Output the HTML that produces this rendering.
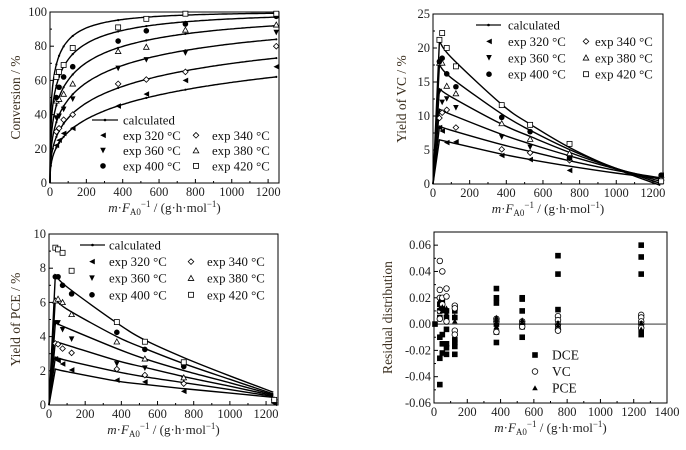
<!DOCTYPE html>
<html><head><meta charset="utf-8"><style>
html,body{margin:0;padding:0;background:#fff;}
svg{display:block;font-family:"Liberation Serif",serif;}
</style></head><body>
<svg id="s" width="686" height="450" viewBox="0 0 686 450" xmlns="http://www.w3.org/2000/svg"></svg>
<script>
const S=document.getElementById('s');let out='';
function P(cfg){
 const {x0,x1,y0,y1,xmin,xmax,ymin,ymax}=cfg;
 cfg.sx=x=>x0+(x-xmin)/(xmax-xmin)*(x1-x0);
 cfg.sy=y=>y1-(y-ymin)/(ymax-ymin)*(y1-y0);
 return cfg;
}
function axes(c){
 let g='';
 g+=`<rect x="${c.x0}" y="${c.y0}" width="${c.x1-c.x0}" height="${c.y1-c.y0}" fill="none" stroke="#000" stroke-width="1"/>`;
 for(let v=c.xmin;v<=c.xmax+1e-9;v+=c.xminor){const X=c.sx(v);
  const maj=Math.abs(v/c.xmaj-Math.round(v/c.xmaj))<1e-6;const L=maj?4:2;
  g+=`<line x1="${X}" y1="${c.y1}" x2="${X}" y2="${c.y1-L}" stroke="#000"/>`;
  if(maj&&X<=c.x1+1) g+=`<text x="${X}" y="${c.y1+13}" font-size="12.5" text-anchor="middle" fill="#222">${v}</text>`;}
 for(let v=c.ymin;v<=c.ymax+1e-9;v+=c.yminor){const Y=c.sy(v);
  const maj=Math.abs(v/c.ymaj-Math.round(v/c.ymaj))<1e-6;const L=maj?4:2;
  g+=`<line x1="${c.x0}" y1="${Y}" x2="${c.x0+L}" y2="${Y}" stroke="#000"/>`;
  if(maj) g+=`<text x="${c.x0-3}" y="${Y+4}" font-size="12.5" text-anchor="end" fill="#222">${c.fmt?c.fmt(v):Math.round(v)}</text>`;}
 const cx=(c.x0+c.x1)/2;
 g+=`<text x="${cx}" y="${c.y1+29}" font-size="13" text-anchor="middle" fill="#222"><tspan font-style="italic">m</tspan>·<tspan font-style="italic">F</tspan><tspan font-size="9" dy="3">A0</tspan><tspan font-size="9" dy="-8">−1</tspan><tspan dy="5"> / (g·h·mol</tspan><tspan font-size="9" dy="-5">−1</tspan><tspan dy="5">)</tspan></text>`;
 g+=`<text transform="translate(${c.ylx},${(c.y0+c.y1)/2}) rotate(-90)" font-size="13.5" text-anchor="middle" fill="#3a2e1e">${c.ylabel}</text>`;
 return g;
}
function mk(t,x,y){const r=2.8;
 switch(t){
 case 'lt':return `<polygon points="${x-r},${y} ${x+r},${y-r} ${x+r},${y+r}" fill="#000"/>`;
 case 'dia':return `<polygon points="${x},${y-r} ${x+r},${y} ${x},${y+r} ${x-r},${y}" fill="#fff" stroke="#000" stroke-width="0.8"/>`;
 case 'dn':return `<polygon points="${x-r},${y-r} ${x+r},${y-r} ${x},${y+r}" fill="#000"/>`;
 case 'up':return `<polygon points="${x-r},${y+r*0.8} ${x+r},${y+r*0.8} ${x},${y-r}" fill="#fff" stroke="#000" stroke-width="0.8"/>`;
 case 'ci':return `<circle cx="${x}" cy="${y}" r="${r}" fill="#000"/>`;
 case 'sq':return `<rect x="${x-r+0.3}" y="${y-r+0.3}" width="${2*r-0.6}" height="${2*r-0.6}" fill="#fff" stroke="#000" stroke-width="0.8"/>`;
 case 'fsq':return `<rect x="${x-r}" y="${y-r}" width="${2*r}" height="${2*r}" fill="#000"/>`;
 case 'oc':return `<circle cx="${x}" cy="${y}" r="${r}" fill="#fff" stroke="#000" stroke-width="0.8"/>`;
 case 'ft':return `<polygon points="${x-r},${y+r*0.8} ${x+r},${y+r*0.8} ${x},${y-r}" fill="#000"/>`;
 }}
const types=['lt','dia','dn','up','ci','sq'];
function legend(x,y,dy,c1m,c1t,c2m,c2t,lx1,lx2){
 let g=`<line x1="${lx1}" y1="${y}" x2="${lx2}" y2="${y}" stroke="#333" stroke-width="1.5"/><circle cx="${(lx1+lx2)/2}" cy="${y}" r="1.3"/>`;
 g+=`<text x="${c1t}" y="${y+4.5}" font-size="12.8" fill="#111">calculated</text>`;
 const lab=['exp 320 °C','exp 340 °C','exp 360 °C','exp 380 °C','exp 400 °C','exp 420 °C'];
 for(let i=0;i<6;i++){const row=1+Math.floor(i/2),col=i%2;const yy=y+row*dy;
  g+=mk(types[i],col?c2m:c1m,yy);g+=`<text x="${col?c2t:c1t}" y="${yy+4.5}" font-size="12.8" fill="#111">${lab[i]}</text>`;}
 return g;}
function spline(pts){let d=`M${pts[0][0]},${pts[0][1]}`;
 for(let i=0;i<pts.length-1;i++){const p0=pts[Math.max(i-1,0)],p1=pts[i],p2=pts[i+1],p3=pts[Math.min(i+2,pts.length-1)];
  d+=` C${p1[0]+(p2[0]-p0[0])/6},${p1[1]+(p2[1]-p0[1])/6} ${p2[0]-(p3[0]-p1[0])/6},${p2[1]-(p3[1]-p1[1])/6} ${p2[0]},${p2[1]}`;}
 return d;}
const XE=[35,50,75,125,375,530,745,1245];
const c1=P({x0:50,x1:279,y0:12,y1:183,xmin:0,xmax:1260,ymin:0,ymax:100,xmaj:200,xminor:100,ymaj:20,yminor:10,ylx:20,ylabel:'Conversion / %'});
out+=axes(c1);
const ks=[0.056,0.0758,0.106,0.146,0.203,0.285];
ks.forEach(k=>{let d='';for(let t=0;t<=1240;t+=(t<60?1:10)){const v=100*(1-Math.exp(-k*Math.pow(t,0.4)));d+=(d?'L':'M')+c1.sx(t).toFixed(1)+','+c1.sy(v).toFixed(1);}
 out+=`<path d="${d}" fill="none" stroke="#000" stroke-width="1.4"/>`;
 XE.forEach(t=>{const v=100*(1-Math.exp(-k*Math.pow(t,0.4)));out+=`<circle cx="${c1.sx(t)}" cy="${c1.sy(v)}" r="1.1"/>`;});});
const E1=[[22,25,29,32,45,52,60,68],[30,32,37,40,58,60.5,65,80],[38,39,43,49,67,72,76,88],[48,49,52,58,77,79.5,89.5,92.5],[50,56,62,68,83,89,93,97.5],[62,65,69,79,91,96,99,99]];
E1.forEach((a,i)=>a.forEach((v,j)=>out+=mk(types[i],c1.sx(XE[j]),c1.sy(v))));
out+=legend(0,120,15.3,103,123,196,212,92,118);
const c2=P({x0:433,x1:663,y0:14,y1:184,xmin:0,xmax:1255,ymin:0,ymax:25,xmaj:200,xminor:100,ymaj:5,yminor:2.5,ylx:406,ylabel:'Yield of VC / %'});
out+=axes(c2);
const V=[[6.5,6.1,4.4,3.6,2.6,1.6,0.8],[8.5,7.9,5.8,4.8,3.4,2.0,0.9],[11,10.2,7.3,5.9,4.1,2.2,0.7],[14,12.8,8.8,7.0,4.6,2.3,0.4],[17.5,15.6,10.3,7.9,5.0,2.3,0.1],[21,18.6,11.7,8.8,5.3,2.2,-0.2]];
const VX=[35,100,375,530,750,1000,1240];
function curves(c,arr,X){arr.forEach(a=>{const pts=a.map((v,j)=>[c.sx(X[j]),c.sy(v)]);
 let d=`M${c.sx(0)},${c.sy(0)} L${pts[0][0]},${pts[0][1]}`+spline(pts).replace(/^M[^C]*/,' ');
 out+=`<path d="${d}" fill="none" stroke="#000" stroke-width="1.4"/>`;});}
curves(c2,V,VX);
const E2=[[8.3,7.8,6.1,6.2,4.2,3.6,2.0,1.3],[9.7,10.5,10.9,8.3,5.1,4.6,3.5,1.0],[13.6,12,12.5,11.2,6.9,5.4,3.7,0.9],[17.8,17.8,14.4,13.3,8.9,6.6,4.5,0.9],[18,18.5,16.2,14.3,9.8,7.7,3.8,1.3],[21.2,22.2,20,17.3,11.6,8.7,5.9,0.4]];
E2.forEach((a,i)=>a.forEach((v,j)=>out+=mk(types[i],c2.sx(XE[j]),c2.sy(v))));
out+=legend(0,25,16.4,489,508,586,595,476,501);
const c3=P({x0:49,x1:278,y0:234,y1:405,xmin:0,xmax:1266,ymin:0,ymax:10,xmaj:200,xminor:100,ymaj:2,yminor:1,ylx:20,ylabel:'Yield of PCE / %'});
out+=axes(c3);
const PC=[[2.1,1.95,1.4,1.2,0.95,0.7,0.45],[2.8,2.6,1.95,1.65,1.3,0.9,0.5],[3.7,3.5,2.6,2.2,1.65,1.1,0.55],[4.8,4.5,3.3,2.7,2.0,1.3,0.6],[6.2,5.6,4.0,3.3,2.4,1.5,0.65],[7.6,6.9,4.8,3.8,2.75,1.7,0.75]];
curves(c3,PC,VX);
const E3=[[2.7,2.6,2.4,2.05,1.45,1.35,0.8,0.1],[3.6,3.55,3.3,3.05,2.1,1.75,1.25,0.3],[4.8,4.8,4.4,3.85,2.4,2.15,1.5,0.2],[6.1,6.2,6.0,5.3,3.7,2.7,1.6,0.25],[7.5,7.5,7.0,6.5,4.25,3.25,2.25,0.3],[9.2,9.1,8.9,7.85,4.85,3.7,2.5,0.3]];
E3.forEach((a,i)=>a.forEach((v,j)=>out+=mk(types[i],c3.sx(XE[j]),c3.sy(v))));
out+=legend(0,245,16.6,92,109,191,207,80,105);
const c4=P({x0:434,x1:667,y0:232,y1:403,xmin:0,xmax:1400,ymin:-0.06,ymax:0.07,xmaj:200,xminor:100,ymaj:0.02,yminor:0.01,ylx:392,ylabel:'Residual distribution',fmt:v=>(Math.abs(v)<1e-9?0:v).toFixed(2)});
out+=axes(c4);
out+=`<line x1="${c4.x0}" y1="${c4.sy(0)}" x2="${c4.x1}" y2="${c4.sy(0)}" stroke="#777" stroke-width="1.5"/>`;
const R={35:[[-0.046,-0.026,-0.01,0.005,0.01,0.015],[0.048,0.026,0.02,0.01,0.004],[0.012,0.015,0.018]],
50:[[-0.022,-0.015,-0.008,0.012,0.016,0.02],[0.04,0.02,0.015],[0.01,0.013]],
75:[[-0.023,-0.018,-0.015,-0.004,0.005,0.01],[0.027,0.021,0.002],[0.012,0.008]],
125:[[-0.023,-0.017,-0.014,-0.012,0.005,0.01,0.012],[0.014,0.012,-0.005,-0.008],[0.002,0.006]],
375:[[0.027,0.02,0.016,-0.014,-0.006,0.0],[-0.006,0.002,0.004],[0.005,0.003,0.001,-0.002]],
530:[[0.02,0.019,0.01,-0.01,-0.002],[0,0.002,-0.002],[0.001,0.003]],
745:[[0.052,0.038,0.011,-0.002],[0.006,0.003,-0.004,-0.005,0.0],[0.001,-0.001]],
1245:[[0.06,0.051,0.038,-0.004,-0.008],[0.007,0.005,0.002,0.0,-0.003],[-0.004,0.001]]};
const rt=['fsq','oc','ft'];
for(const k in R){R[k].forEach((a,i)=>a.forEach(v=>out+=mk(rt[i],c4.sx(+k),c4.sy(v))));}
out+=mk('fsq',c4.sx(0)+1,c4.sy(0));
['DCE','VC','PCE'].forEach((l,i)=>{const y=355+i*16.5;out+=mk(rt[i],535,y);out+=`<text x="552" y="${y+4.5}" font-size="13.5" fill="#111">${l}</text>`;});
S.innerHTML=out;
</script>
</body></html>
